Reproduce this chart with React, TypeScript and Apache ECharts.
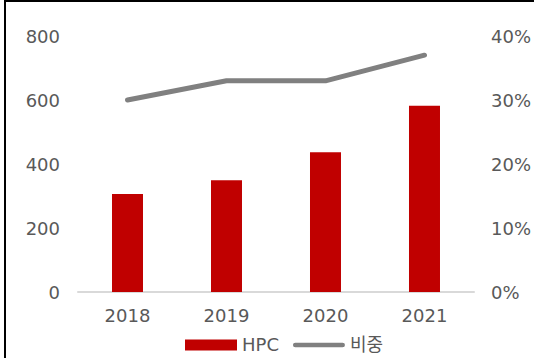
import React, { useEffect, useRef } from "react";
import * as echarts from "echarts";

const categories = ["2018", "2019", "2020", "2021"];
const hpcValues = [306, 349, 437, 582];
const shareValues = [30, 33, 33, 37];
const leftTicks = [0, 200, 400, 600, 800];
const rightTicks = [0, 10, 20, 30, 40];

export default function App() {
  const ref = useRef<HTMLDivElement>(null);
  useEffect(() => {
    if (!ref.current) return;
    const chart = echarts.init(ref.current, undefined, { renderer: "svg" });
    const font = "'DejaVu Sans', 'Noto Sans CJK KR', sans-serif";
    const textColor = "#595959";
    const lab = { color: textColor, fontSize: 18, fontWeight: "normal", fontFamily: font };
    chart.setOption({
      animation: false,
      backgroundColor: "#ffffff",
      textStyle: { fontFamily: font },
      grid: { left: 78, right: 58, top: 36, bottom: 66, containLabel: false },
      legend: {
        top: 336,
        left: 185,
        itemGap: 14,
        itemWidth: 52,
        itemHeight: 11,
        padding: 0,
        textStyle: { ...lab },
        data: [
          { name: "HPC", icon: "rect", itemStyle: { color: "#c00000" } },
          {
            name: "비중",
            icon: "path://M5,0 H105 A5,5 0 0 1 105,10 H5 A5,5 0 0 1 5,0 Z",
            itemStyle: { color: "#808080" },
          },
        ],
      },
      xAxis: {
        type: "category",
        data: categories,
        axisLine: { lineStyle: { color: "#d9d9d9", width: 2 } },
        axisTick: { show: false },
        axisLabel: { ...lab, margin: 14 },
      },
      yAxis: [
        {
          type: "value",
          min: leftTicks[0],
          max: leftTicks[leftTicks.length - 1],
          interval: 200,
          splitLine: { show: false },
          axisLine: { show: false },
          axisTick: { show: false },
          axisLabel: { ...lab, margin: 18 },
        },
        {
          type: "value",
          min: rightTicks[0],
          max: rightTicks[rightTicks.length - 1],
          interval: 10,
          splitLine: { show: false },
          axisLine: { show: false },
          axisTick: { show: false },
          axisLabel: { ...lab, margin: 17, formatter: "{value}%" },
        },
      ],
      series: [
        {
          name: "HPC",
          type: "bar",
          data: hpcValues,
          barWidth: 31,
          itemStyle: { color: "#c00000" },
          yAxisIndex: 0,
        },
        {
          name: "비중",
          type: "line",
          data: shareValues,
          yAxisIndex: 1,
          symbol: "none",
          lineStyle: { color: "#808080", width: 5, cap: "round", join: "round" },
          itemStyle: { color: "#808080" },
        },
      ],
      graphic: [
        { type: "line", shape: { x1: 4, y1: 1, x2: 534, y2: 1 }, style: { stroke: "#000", lineWidth: 2 } },
        { type: "line", shape: { x1: 5, y1: 0, x2: 5, y2: 358 }, style: { stroke: "#000", lineWidth: 2 } },
      ],
    });
    return () => chart.dispose();
  }, []);
  return (
    <div
      ref={ref}
      style={{ position: "fixed", left: 0, top: 0, width: 534, height: 358 }}
    />
  );
}
